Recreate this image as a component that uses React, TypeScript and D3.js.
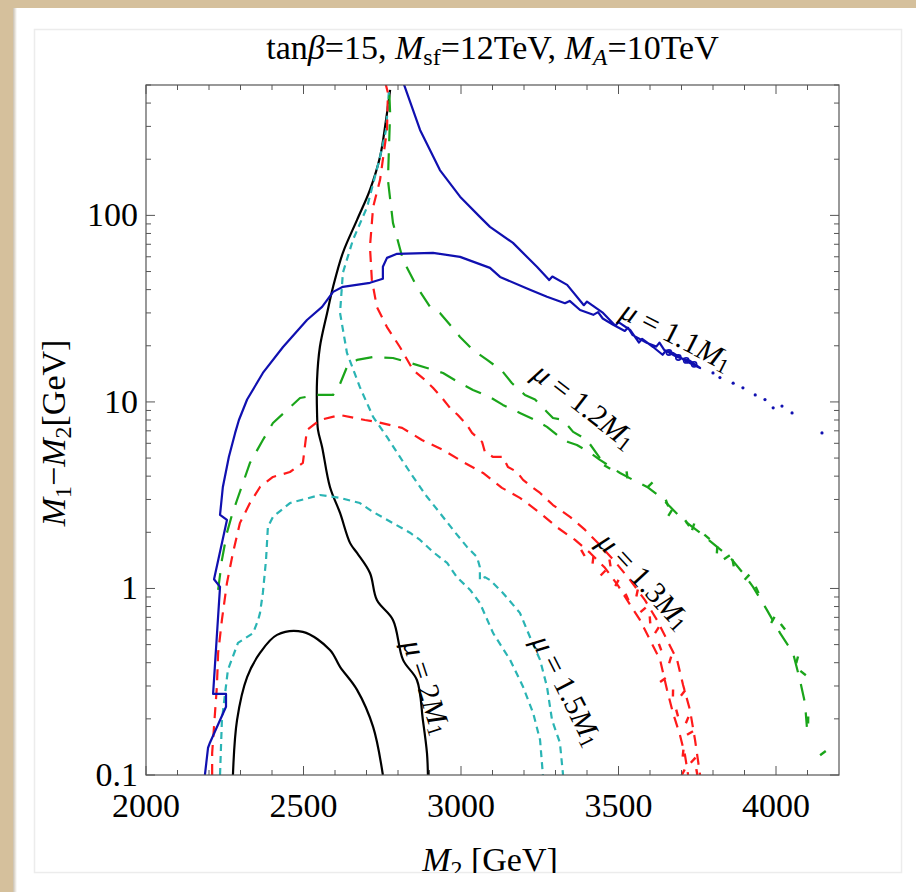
import React from 'react';
import * as d3 from 'd3';

type P = [number, number];

// ---------- axes ----------
const xDomain: [number, number] = [2000, 4200];
const yDomain: [number, number] = [0.1, 500];
const xTickValues = [2000, 2500, 3000, 3500, 4000];
const xTickLabels = ['2000', '2500', '3000', '3500', '4000'];
const yTickValues = [0.1, 1, 10, 100];
const yTickLabels = ['0.1', '1', '10', '100'];

// ---------- mu = 1.1 M1 (blue, solid) ----------
const mu11Main: P[] = [
  [2187, 0.1], [2197, 0.14], [2203, 0.149], [2254, 0.232], [2254, 0.272], [2213, 0.272],
  [2235, 1.02], [2216, 1.12], [2257, 2.33], [2235, 2.48], [2244, 3.5], [2263, 5.07],
  [2283, 6.82], [2295, 8.0], [2321, 10.3], [2371, 14.3], [2435, 19.7], [2511, 27.5],
  [2559, 32.3], [2594, 38.9], [2625, 41.4], [2711, 43.5], [2752, 45.7], [2752, 53.0],
  [2765, 59.2], [2797, 62.2], [2911, 63.0], [2997, 59.9], [3092, 52.3], [3124, 46.8],
  [3219, 39.9], [3273, 36.6], [3330, 33.8], [3345, 34.8], [3378, 31.1], [3420, 29.3],
  [3435, 30.3], [3450, 28.0], [3483, 25.9], [3520, 24.0], [3530, 25.0], [3545, 22.8],
  [3591, 20.7], [3620, 19.8], [3630, 20.8], [3645, 19.0], [3673, 18.3], [3718, 16.4],
  [3759, 15.2],
  [3727, 16.6], [3686, 17.4], [3650, 18.8], [3640, 17.9], [3610, 19.7], [3575, 21.8],
  [3565, 20.8], [3537, 24.3], [3500, 26.8], [3490, 25.6], [3451, 30.0], [3400, 34.5],
  [3390, 33.0], [3337, 42.4], [3290, 47.0], [3280, 45.0], [3241, 53.0], [3165, 71.2],
  [3092, 86.8], [3060, 98.2], [2997, 126], [2933, 175], [2870, 287], [2816, 520],
];
const mu11Loops: P[] = [[3660, 18.4], [3690, 17.3], [3715, 16.7], [3740, 15.9]];
const mu11Dots: P[] = [
  [3800, 14.3], [3822, 13.5], [3864, 12.6], [3895, 11.9],
  [3934, 10.9], [3965, 10.3], [3991, 9.3], [4019, 9.5], [4051, 8.73], [4146, 6.82],
];

// ---------- mu = 1.2 M1 (green, long dashes) ----------
const mu12Main: P[] = [
  [2229, 0.982], [2241, 1.42], [2257, 1.99], [2273, 2.48], [2289, 2.98], [2330, 4.71],
  [2371, 6.25], [2403, 7.71], [2448, 9.06], [2489, 10.5], [2543, 10.9], [2594, 10.9],
  [2610, 12.2], [2616, 12.5], [2638, 15.4], [2670, 16.8], [2721, 17.4], [2784, 17.2],
  [2838, 16.2], [2892, 15.2], [2943, 14.3], [2997, 12.6], [3038, 11.6], [3092, 10.6],
  [3133, 9.64], [3187, 8.73], [3235, 8.0], [3273, 7.35], [3305, 6.65], [3340, 6.1],
  [3368, 5.88], [3410, 5.33], [3441, 4.89], [3505, 4.16], [3546, 3.82], [3591, 3.5],
  [3632, 3.1], [3664, 2.74], [3705, 2.33], [3759, 1.99], [3813, 1.67], [3854, 1.47],
  [3895, 1.21], [3927, 1.02], [3971, 0.768], [4013, 0.576], [4054, 0.451], [4076, 0.323],
  [4092, 0.243], [4098, 0.181],
];
const mu12Upper: P[] = [
  [3441, 5.0], [3400, 6.25], [3356, 6.91], [3324, 8.0], [3292, 8.2], [3273, 8.84],
  [3235, 10.3], [3203, 10.9], [3162, 12.6], [3130, 14.7], [3083, 16.8], [3038, 19.0],
  [2997, 22.3], [2965, 25.9], [2933, 30.0], [2902, 32.3], [2860, 41.4], [2816, 57.7],
  [2784, 91.2], [2768, 155], [2775, 355], [2771, 520],
];
const mu12Dots: P[] = [
  [3464, 4.48], [3527, 4.06], [3600, 3.59], [3654, 2.87], [3664, 2.54], [3718, 2.24],
  [3737, 2.14], [3781, 1.89], [3813, 1.61], [3844, 1.47], [3864, 1.37], [3908, 1.15],
  [3940, 0.982], [3990, 0.678], [4022, 0.623], [4067, 0.414], [4086, 0.352], [4102, 0.197],
  [4149, 0.131],
];

// ---------- mu = 1.3 M1 (red, medium dashes) ----------
const mu13Main: P[] = [
  [2210, 0.1], [2210, 0.131], [2219, 0.215], [2225, 0.297], [2229, 0.451], [2241, 0.678],
  [2257, 1.07], [2276, 1.55], [2298, 2.24], [2330, 2.87], [2362, 3.5], [2403, 3.96],
  [2457, 4.21], [2498, 4.71], [2505, 5.88], [2511, 7.08], [2552, 8.0], [2616, 8.51],
  [2695, 8.0], [2733, 7.81], [2813, 7.26], [2876, 6.25], [2943, 5.53], [3006, 4.77],
  [3070, 4.16], [3130, 3.46], [3187, 3.06], [3251, 2.54], [3308, 2.11], [3362, 1.82],
  [3410, 1.55], [3457, 1.29], [3498, 1.04], [3537, 0.817], [3568, 0.678], [3600, 0.53],
  [3632, 0.414], [3654, 0.286], [3673, 0.215], [3695, 0.164], [3711, 0.128], [3721, 0.1],
];
const mu13Upper: P[] = [
  [2759, 520], [2768, 454], [2765, 287], [2743, 155], [2721, 111], [2711, 67.8],
  [2717, 45.1], [2733, 32.3], [2765, 25.2], [2806, 19.7], [2848, 14.8], [2886, 13.1],
  [2911, 11.9], [2940, 10.5], [2965, 9.29], [2990, 8.51], [3019, 7.53], [3035, 6.82],
  [3067, 6.1], [3076, 5.39], [3102, 5.07], [3133, 5.07], [3149, 4.48], [3178, 4.21],
  [3197, 3.82], [3225, 3.5], [3251, 3.25], [3292, 2.8], [3346, 2.42], [3394, 2.06],
  [3441, 1.71], [3489, 1.39], [3537, 1.11], [3584, 0.866], [3622, 0.678], [3654, 0.53],
  [3686, 0.414], [3705, 0.304], [3727, 0.223], [3743, 0.154], [3759, 0.1],
];
const mu13Dots: P[] = [
  [3387, 1.55], [3419, 1.42], [3451, 1.21], [3473, 1.37], [3495, 1.07], [3527, 0.9],
  [3559, 0.946], [3578, 0.768], [3600, 0.678], [3622, 0.598], [3632, 0.485], [3664, 0.414],
  [3641, 0.323], [3673, 0.275], [3705, 0.275], [3686, 0.215], [3718, 0.197], [3727, 0.168],
  [3705, 0.131], [3737, 0.12], [3749, 0.103], [3705, 0.103],
];

// ---------- mu = 1.5 M1 (cyan, short dashes) ----------
const mu15Upper: P[] = [
  [2771, 459], [2762, 287], [2743, 206], [2702, 111], [2657, 73.9], [2625, 49.2],
  [2616, 30.0], [2638, 18.3], [2679, 12.0], [2721, 8.31], [2765, 6.49], [2806, 5.07],
  [2848, 3.96], [2892, 3.1], [2933, 2.54], [2975, 2.06], [3019, 1.67], [3051, 1.47],
  [3060, 1.3], [3060, 1.11], [3076, 1.15], [3092, 1.11], [3133, 0.946], [3187, 0.74],
  [3219, 0.549], [3251, 0.414], [3273, 0.297], [3289, 0.197], [3314, 0.149], [3324, 0.1],
];
const mu15Inner: P[] = [
  [2235, 0.1], [2241, 0.197], [2260, 0.366], [2292, 0.511], [2340, 0.576], [2356, 0.678],
  [2362, 0.74], [2371, 0.946], [2381, 1.42], [2387, 2.14], [2403, 2.42], [2457, 2.87],
  [2552, 3.17], [2616, 3.06], [2679, 2.87], [2721, 2.57], [2784, 2.24], [2838, 1.99],
  [2870, 1.82], [2911, 1.57], [2956, 1.37], [2987, 1.15], [3029, 0.982], [3060, 0.835],
  [3102, 0.576], [3156, 0.414], [3197, 0.297], [3229, 0.215], [3251, 0.154], [3260, 0.1],
];

// ---------- mu = 2 M1 (black, solid) ----------
const mu2Outer: P[] = [
  [2775, 471], [2762, 325], [2743, 206], [2711, 137], [2670, 94.6], [2625, 63.0],
  [2594, 41.4], [2575, 30.0], [2552, 19.7], [2543, 13.1], [2543, 8.73], [2546, 7.08],
  [2559, 5.74], [2584, 3.5], [2616, 2.54], [2648, 1.75], [2670, 1.55], [2711, 1.21],
  [2733, 0.866], [2784, 0.678], [2816, 0.414], [2860, 0.323], [2879, 0.197], [2892, 0.131],
  [2895, 0.1],
];
const mu2Inner: P[] = [
  [2276, 0.1], [2289, 0.197], [2321, 0.335], [2362, 0.451], [2416, 0.564], [2498, 0.585],
  [2584, 0.468], [2616, 0.38], [2670, 0.286], [2721, 0.181], [2752, 0.1],
];

// ---------- contour labels ----------
const labelNumbers = ['1.1', '1.2', '1.3', '1.5', '2'];
const labelAnchors: P[] = [[3686, 22.9], [3394, 9.64], [3584, 1.11], [3340, 0.286], [2895, 0.297]];
const labelAngles = [27, 37.6, 47, 63, 72];

const FONT = '"Liberation Serif", "Times New Roman", serif';
const L = 146, R = 839, T = 85, B = 775;

export default function App() {
  const x = d3.scaleLinear().domain(xDomain).range([L, R]);
  const y = d3.scaleLog().domain(yDomain).range([B, T]);
  const lin = d3.line<P>().x(d => x(d[0])).y(d => y(d[1]));
  const smooth = d3.line<P>().x(d => x(d[0])).y(d => y(d[1])).curve(d3.curveCatmullRom.alpha(0.5));

  const xMinor: number[] = d3.range(2100, 4200, 100).filter(v => v % 500 !== 0);
  const yMinor: number[] = [];
  [0.1, 1, 10, 100].forEach(dec => {
    for (let k = 2; k <= 9; k++) if (k * dec <= 500) yMinor.push(k * dec);
  });

  const frame = '#555';
  const blue = '#1010b0', green = '#1aa51a', red = '#ff1a1a', cyan = '#2ab4b4';
  const SW = 2.2;

  return (
    <div style={{ position: 'absolute', left: 0, top: 0 }}>
      <svg width={916} height={892} style={{ display: 'block' }}>
        <defs>
          <clipPath id="plot"><rect x={L} y={T} width={R - L} height={B - T} /></clipPath>
          <clipPath id="card"><rect x={0} y={0} width={916} height={873} /></clipPath>
          <linearGradient id="edge" x1="0" x2="1">
            <stop offset="0" stopColor="#c9bfae" />
            <stop offset="1" stopColor="#ffffff" />
          </linearGradient>
        </defs>
        <rect x={0} y={0} width={916} height={892} fill="#d5c09c" />
        <rect x={13} y={8} width={903} height={884} fill="#ffffff" />
        <rect x={13} y={8} width={4} height={884} fill="url(#edge)" />
        <rect x={34.5} y={29.5} width={867} height={843} fill="none" stroke="#ececec" strokeWidth={1.5} />

        {/* title */}
        <text x={(L + R) / 2} y={59} textAnchor="middle" fontFamily={FONT} fontSize={34} fill="#000">
          tan<tspan fontStyle="italic">β</tspan>=15, <tspan fontStyle="italic">M</tspan>
          <tspan fontSize={24} dy={6}>sf</tspan><tspan dy={-6}>=12TeV, </tspan>
          <tspan fontStyle="italic">M</tspan><tspan fontSize={24} dy={6} fontStyle="italic">A</tspan>
          <tspan dy={-6}>=10TeV</tspan>
        </text>

        {/* curves */}
        <g clipPath="url(#plot)" fill="none" strokeLinejoin="round">
          <path d={smooth(mu2Outer) || ''} stroke="#000" strokeWidth={SW} />
          <path d={smooth(mu2Inner) || ''} stroke="#000" strokeWidth={SW} />
          <path d={lin(mu15Upper) || ''} stroke={cyan} strokeWidth={SW} strokeDasharray="7,5" />
          <path d={lin(mu15Inner) || ''} stroke={cyan} strokeWidth={SW} strokeDasharray="7,5" />
          <path d={lin(mu13Main) || ''} stroke={red} strokeWidth={SW} strokeDasharray="11,8" />
          <path d={lin(mu13Upper) || ''} stroke={red} strokeWidth={SW} strokeDasharray="11,8" />
          {mu13Dots.map((d, i) => (
            <rect key={'rd' + i} x={x(d[0]) - 1.2} y={y(d[1]) - 3.5} width={2.4} height={7} fill={red}
              transform={`rotate(${(i * 37) % 90 - 30},${x(d[0])},${y(d[1])})`} />
          ))}
          <path d={lin(mu12Main) || ''} stroke={green} strokeWidth={SW} strokeDasharray="17,12" />
          <path d={lin(mu12Upper) || ''} stroke={green} strokeWidth={SW} strokeDasharray="17,12" />
          {mu12Dots.map((d, i) => (
            <rect key={'gd' + i} x={x(d[0]) - 1.2} y={y(d[1]) - 3.5} width={2.4} height={7} fill={green}
              transform={`rotate(${(i * 53) % 120 - 60},${x(d[0])},${y(d[1])})`} />
          ))}
          <path d={lin(mu11Main) || ''} stroke={blue} strokeWidth={SW} />
          {mu11Loops.map((d, i) => (
            <circle key={'bl' + i} cx={x(d[0])} cy={y(d[1])} r={2.6} fill="none" stroke={blue} strokeWidth={1.6} />
          ))}
          {mu11Dots.map((d, i) => (
            <circle key={'bd' + i} cx={x(d[0])} cy={y(d[1])} r={1.6} fill={blue} />
          ))}
        </g>

        {/* frame + ticks */}
        <rect x={L} y={T} width={R - L} height={B - T} fill="none" stroke={frame} strokeWidth={1.2} />
        <g stroke={frame} strokeWidth={1}>
          {xTickValues.map(v => (
            <g key={'xt' + v}>
              <line x1={x(v)} x2={x(v)} y1={B} y2={B - 9} />
              <line x1={x(v)} x2={x(v)} y1={T} y2={T + 9} />
            </g>
          ))}
          {xMinor.map(v => (
            <g key={'xm' + v}>
              <line x1={x(v)} x2={x(v)} y1={B} y2={B - 5} />
              <line x1={x(v)} x2={x(v)} y1={T} y2={T + 5} />
            </g>
          ))}
          {yTickValues.map(v => (
            <g key={'yt' + v}>
              <line x1={L} x2={L + 9} y1={y(v)} y2={y(v)} />
              <line x1={R} x2={R - 9} y1={y(v)} y2={y(v)} />
            </g>
          ))}
          {yMinor.map(v => (
            <g key={'ym' + v}>
              <line x1={L} x2={L + 5} y1={y(v)} y2={y(v)} />
              <line x1={R} x2={R - 5} y1={y(v)} y2={y(v)} />
            </g>
          ))}
        </g>

        {/* tick labels */}
        <g fontFamily={FONT} fontSize={34} fill="#000">
          {xTickValues.map((v, i) => (
            <text key={'xl' + v} x={x(v)} y={817} textAnchor="middle">{xTickLabels[i]}</text>
          ))}
          {yTickValues.map((v, i) => (
            <text key={'yl' + v} x={L - 8} y={y(v) + 11} textAnchor="end">{yTickLabels[i]}</text>
          ))}
        </g>

        {/* axis labels */}
        <g clipPath="url(#card)">
          <text x={490} y={871} textAnchor="middle" fontFamily={FONT} fontSize={34}>
            <tspan fontStyle="italic">M</tspan><tspan fontSize={24} dy={6}>2</tspan><tspan dy={-6}> [GeV]</tspan>
          </text>
        </g>
        <text transform={`translate(65,433) rotate(-90)`} textAnchor="middle" fontFamily={FONT} fontSize={34}>
          <tspan fontStyle="italic">M</tspan><tspan fontSize={24} dy={6}>1</tspan>
          <tspan dy={-6}>−</tspan><tspan fontStyle="italic">M</tspan><tspan fontSize={24} dy={6}>2</tspan>
          <tspan dy={-6}>[GeV]</tspan>
        </text>

        {/* contour labels */}
        {labelNumbers.map((n, i) => (
          <text key={'lab' + i}
            transform={`translate(${x(labelAnchors[i][0])},${y(labelAnchors[i][1])}) rotate(${labelAngles[i]})`}
            textAnchor="middle" dominantBaseline="central" fontFamily={FONT} fontSize={30} fill="#000">
            <tspan fontStyle="italic">μ</tspan>{' = ' + n}<tspan fontStyle="italic">M</tspan>
            <tspan fontSize={21} dy={7}>1</tspan>
          </text>
        ))}
      </svg>
    </div>
  );
}
